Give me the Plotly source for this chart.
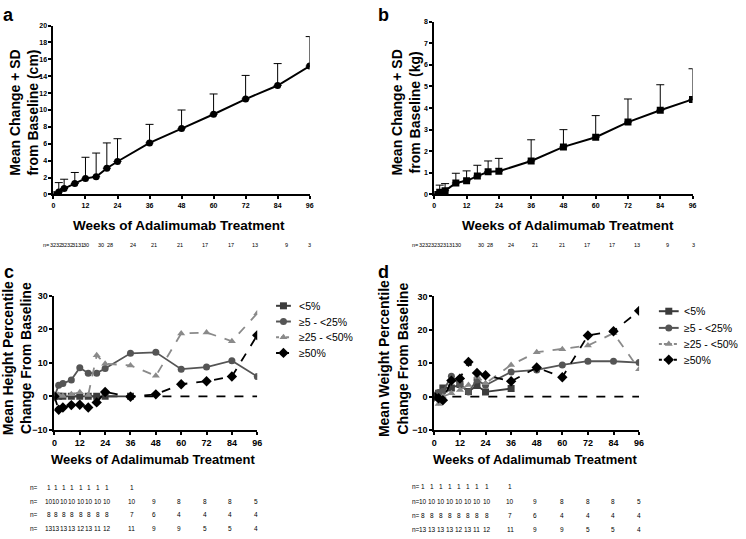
import plotly.graph_objects as go

W, H = 746, 539

# ---------------- data ----------------
weeks = [0, 2, 4, 8, 12, 16, 20, 24, 36, 48, 60, 72, 84, 96]
height_mean = [0, 0.3, 0.7, 1.3, 1.9, 2.1, 3.1, 3.9, 6.1, 7.8, 9.5, 11.3, 12.9, 15.2]
height_sd = [0, 1.1, 1.1, 1.3, 2.5, 2.8, 3.0, 2.7, 2.2, 2.2, 2.4, 2.8, 2.6, 3.5]
weight_mean = [0, 0.1, 0.17, 0.53, 0.63, 0.85, 1.05, 1.07, 1.55, 2.2, 2.65, 3.35, 3.9, 4.4]
weight_sd = [0, 0.33, 0.33, 0.45, 0.46, 0.5, 0.5, 0.6, 0.98, 0.8, 1.0, 1.07, 1.18, 1.42]

groups = ["<5%", "≥5 - <25%", "≥25 - <50%", "≥50%"]
weeks_lt5 = [0, 2, 4, 8, 12, 16, 20, 24, 36]
hpct_lt5 = [0, 0, 0, 0, 0, 0, 0, 0, 0]
hpct_5_25 = [0, 3.3, 3.8, 4.9, 8.5, 6.9, 6.9, 8.3, 12.8, 13.1, 8.1, 8.7, 10.6, 5.9]
hpct_25_50 = [0, 0.4, 0.1, 0.6, 1.2, 0.4, 12.2, 9.7, 9.2, 6.1, 18.7, 19.0, 16.4, 24.7]
hpct_ge50 = [0, -4.0, -3.3, -2.6, -2.5, -3.3, -1.8, 1.3, -0.1, 0.6, 3.6, 4.5, 5.9, 18.2]

wpct_lt5 = [0, 1.0, 2.6, 2.6, 3.6, 1.5, 3.3, 1.4, 2.4]
wpct_5_25 = [0, 1.2, 1.5, 6.1, 3.6, 1.4, 5.0, 3.4, 7.4, 8.0, 9.5, 10.6, 10.6, 10.2]
wpct_25_50 = [0, -2.2, 0.0, 1.0, 2.0, 3.5, 6.0, 4.0, 9.5, 13.3, 14.2, 15.3, 19.0, 8.2]
wpct_ge50 = [0, -0.5, -1.1, 4.8, 5.4, 10.4, 7.1, 6.4, 4.6, 8.7, 5.8, 18.3, 19.6, 25.7]

n_ab = ["n=", "32", "32", "32", "32", "31", "31", "30", "30", "28", "24", "21", "21", "17", "17", "13", "9", "3"]
n_cd_rows = [
    ["1", "1", "1", "1", "1", "1", "1", "1", "1", "", "", "", "", ""],
    ["10", "10", "10", "10", "10", "10", "10", "10", "10", "9", "8", "8", "8", "5"],
    ["8", "8", "8", "8", "8", "8", "8", "8", "7", "6", "4", "4", "4", "4"],
    ["13", "13", "13", "13", "12", "13", "11", "12", "11", "9", "9", "5", "5", "4"],
]

# ---------------- helpers ----------------
def px(x):
    return x / W

def py(y):
    return 1 - y / H

FONT = "Liberation Sans, Arial, sans-serif"
fig = go.Figure()

# Panel a
fig.add_trace(go.Scatter(
    x=weeks, y=height_mean, mode="lines+markers", xaxis="x", yaxis="y",
    line=dict(color="black", width=2), marker=dict(symbol="circle", size=7, color="black"),
    error_y=dict(type="data", array=height_sd, arrayminus=[0] * len(height_sd), symmetric=False,
                 width=4, thickness=1, color="black"),
    showlegend=False))
# Panel b
fig.add_trace(go.Scatter(
    x=weeks, y=weight_mean, mode="lines+markers", xaxis="x2", yaxis="y2",
    line=dict(color="black", width=2), marker=dict(symbol="square", size=7, color="black"),
    error_y=dict(type="data", array=weight_sd, arrayminus=[0] * len(weight_sd), symmetric=False,
                 width=4, thickness=1, color="black"),
    showlegend=False))

styles = [
    dict(color="#3c3c3c", dash="solid", symbol="square", size=7),
    dict(color="#555555", dash="solid", symbol="circle", size=7),
    dict(color="#8a8a8a", dash="dash", symbol="triangle-up", size=7),
    dict(color="#000000", dash="dash", symbol="diamond", size=8),
]

def add_group_panel(series, xa, ya):
    fig.add_trace(go.Scatter(x=[weeks[0], weeks[-1]], y=[0, 0], mode="lines", xaxis=xa, yaxis=ya,
                             line=dict(color="black", width=1.6, dash="dash"), showlegend=False,
                             hoverinfo="skip"))
    for name, (xs, ys), st in zip(groups, series, styles):
        fig.add_trace(go.Scatter(
            x=xs, y=ys, mode="lines+markers", name=name, xaxis=xa, yaxis=ya, showlegend=False,
            line=dict(color=st["color"], width=1.8, dash=st["dash"]),
            marker=dict(symbol=st["symbol"], size=st["size"], color=st["color"])))

add_group_panel([(weeks_lt5, hpct_lt5), (weeks, hpct_5_25), (weeks, hpct_25_50), (weeks, hpct_ge50)],
                "x3", "y3")
add_group_panel([(weeks_lt5, wpct_lt5), (weeks, wpct_5_25), (weeks, wpct_25_50), (weeks, wpct_ge50)],
                "x4", "y4")

ann = []
def text(x, y, s, size, bold=True, angle=0, xanchor="center"):
    ann.append(dict(x=px(x), y=py(y), xref="paper", yref="paper", text=s, showarrow=False,
                    textangle=angle, xanchor=xanchor, yanchor="middle",
                    font=dict(family=FONT, size=size, color="black", weight="bold" if bold else "normal")))

# manual legends drawn on an overlay axis in pixel units
def legend_block(x0, x1, text_x, rows_y):
    for name, st, yy in zip(groups, styles, rows_y):
        fig.add_trace(go.Scatter(x=[x0, x1], y=[yy, yy], mode="lines", xaxis="x5", yaxis="y5",
                                 line=dict(color=st["color"], width=2,
                                           dash="3px,2px" if st["dash"] == "dash" else "solid"),
                                 showlegend=False, hoverinfo="skip"))
        fig.add_trace(go.Scatter(x=[(x0 + x1) / 2], y=[yy], mode="markers", xaxis="x5", yaxis="y5",
                                 marker=dict(symbol=st["symbol"], size=st["size"], color=st["color"]),
                                 showlegend=False, hoverinfo="skip"))
        text(text_x, yy, name, 10.5, bold=False, xanchor="left")

legend_block(276, 291, 297, [306.5, 322.5, 338.5, 354.5])
legend_block(663, 683, 686, [312, 329, 345.5, 361.5])

def axis(domain, rng, dtick, tickfont, anchor):
    return dict(domain=domain, range=rng, dtick=dtick, tick0=0, showgrid=False, zeroline=False,
                showline=True, linecolor="black", linewidth=2, ticks="outside", ticklen=3,
                tickwidth=1.5, tickcolor="black", anchor=anchor,
                tickfont=dict(family=FONT, size=tickfont, color="black", weight="bold"))

fig.update_layout(
    width=W, height=H, margin=dict(l=0, r=0, t=0, b=0),
    paper_bgcolor="white", plot_bgcolor="rgba(0,0,0,0)", showlegend=False,
    xaxis=axis([px(51), px(310)], [0, 96], 12, 7, "y"),
    yaxis=axis([py(193), py(21)], [0, 20], 2, 7, "x"),
    xaxis2=axis([px(436), px(697)], [0, 96], 12, 7, "y2"),
    yaxis2=axis([py(193), py(17)], [0, 8], 1, 7, "x2"),
    xaxis3=axis([px(52), px(257)], [0, 96], 12, 9, "y3"),
    yaxis3=axis([py(433), py(296)], [-10, 30], 10, 9, "x3"),
    xaxis4=axis([px(436), px(643)], [0, 96], 12, 9, "y4"),
    yaxis4=axis([py(433), py(297)], [-10, 30], 10, 9, "x4"),
    xaxis5=dict(domain=[0, 1], range=[0, W], visible=False, anchor="y5", fixedrange=True),
    yaxis5=dict(domain=[0, 1], range=[H, 0], visible=False, anchor="x5", fixedrange=True),
)

# panel letters
text(6, 10, "a", 18)
text(385, 10, "b", 18)
text(6, 272, "c", 18)
text(385, 272, "d", 18)

# axis titles
text(21, 110, "Mean Change + SD<br>from Baseline (cm)", 14, angle=-90)
text(407, 110, "Mean Change + SD<br>from Baseline (kg)", 14, angle=-90)
text(14, 360, "Mean Height Percentile<br>Change From Baseline", 14, angle=-90)
text(395, 360, "Mean Weight Percentile<br>Change From Baseline", 14, angle=-90)
text(178, 225, "Weeks of Adalimumab Treatment", 13.5)
text(571, 225, "Weeks of Adalimumab Treatment", 13.5)
text(152, 463, "Weeks of Adalimumab Treatment", 13)
text(538, 463, "Weeks of Adalimumab Treatment", 13)

# n rows for a / b
pos_a = [43, 51, 56.5, 62, 67.5, 73, 78.5, 84, 99, 108, 131, 153, 179, 204, 230, 255, 287, 310]
pos_b = [416, 424, 430, 436, 442, 448, 454, 460, 483, 492, 514, 538, 565, 590, 616, 641, 672, 698]
for s, xa_, xb_ in zip(n_ab, pos_a, pos_b):
    text(xa_, 245, s, 5.5, bold=False)
    text(xb_, 245, s, 5.5, bold=False)

# n rows for c / d
cols_c = [46, 54, 62, 70, 79, 87, 96, 105, 130, 153, 178, 204, 229, 256]
cols_d = [425, 434, 443, 452, 461, 470, 479, 489, 513, 538, 565, 591, 617, 643]
rows_c_y = [492, 506, 519, 533]
rows_d_y = [491, 506, 520, 534]
for row, yc, yd in zip(n_cd_rows, rows_c_y, rows_d_y):
    text(31, yc, "n=", 6.5, bold=False)
    text(417, yd, "n=", 6.5, bold=False)
    for s, xc_, xd_ in zip(row, cols_c, cols_d):
        if s:
            text(xc_, yc, s, 6.5, bold=False)
            text(xd_, yd, s, 6.5, bold=False)

fig.update_layout(annotations=ann)
fig.write_html("out.html", config={"displayModeBar": False},
               post_script="document.body.style.margin='0px';")
